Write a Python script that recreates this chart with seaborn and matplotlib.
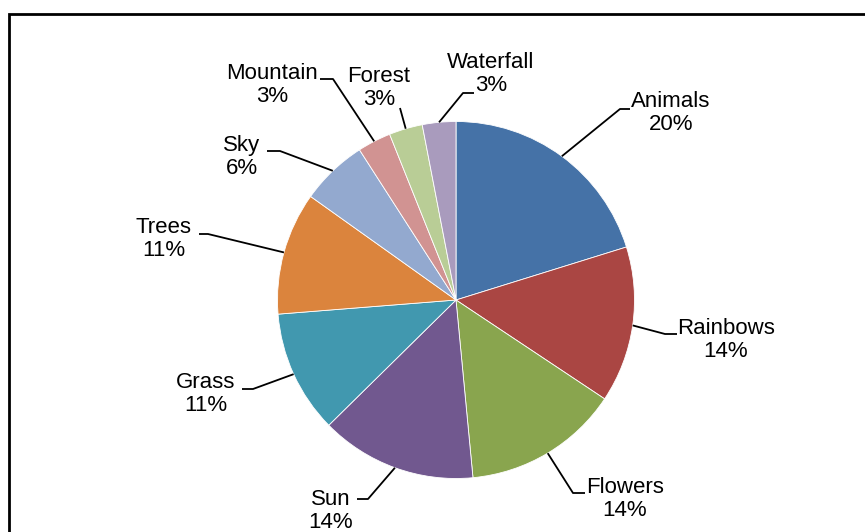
import matplotlib
matplotlib.use("Agg")
import matplotlib.pyplot as plt
import seaborn as sns
import numpy as np
from matplotlib.patches import Rectangle

# Share of votes per favourite picture theme (percent)
categories = ["Animals", "Rainbows", "Flowers", "Sun", "Grass",
              "Trees", "Sky", "Mountain", "Forest", "Waterfall"]
shares = [20, 14, 14, 14, 11, 11, 6, 3, 3, 3]
slice_colors = ["#4572A7", "#AA4643", "#89A54E", "#71588F", "#4198AF",
                "#DB843D", "#93A9CF", "#D19392", "#B9CD96", "#A99BBD"]

# Label layout in canvas pixels (x to the right, y downward):
# text block centre, then the leader-line points leading back to the slice.
label_layout = {
    "Animals":   {"text": (671, 113), "path": [(620, 109), (630, 109)]},
    "Rainbows":  {"text": (726, 340), "path": [(665, 334), (677, 334)]},
    "Flowers":   {"text": (625, 499), "path": [(573, 493), (585, 493)]},
    "Sun":       {"text": (331, 511), "path": [(368, 499), (357, 499)]},
    "Grass":     {"text": (206, 394), "path": [(253, 389), (242, 389)]},
    "Trees":     {"text": (164, 239), "path": [(208, 234), (199, 234)]},
    "Sky":       {"text": (242, 157), "path": [(280, 151), (267, 151)]},
    "Mountain":  {"text": (272, 85),  "path": [(333, 79), (320, 79)]},
    "Forest":    {"text": (379, 88),  "path": [(400, 108)]},
    "Waterfall": {"text": (491, 74),  "path": [(463, 93), (474, 93)]},
}

W, H = 865, 532
CENTER = (456, 300)
RADIUS = 178.5

sns.set_theme(style="white")
plt.rcParams["font.family"] = ["Liberation Sans", "DejaVu Sans"]


def flip(pt):
    return (pt[0], H - pt[1])


fig = plt.figure(figsize=(W / 100, H / 100), dpi=100)
fig.patch.set_facecolor("white")
ax = fig.add_axes([0, 0, 1, 1])

wedges, _ = ax.pie(
    shares,
    colors=slice_colors,
    startangle=90,
    counterclock=False,
    center=flip(CENTER),
    radius=RADIUS,
    wedgeprops=dict(edgecolor="white", linewidth=0.6),
)

cx, cy = flip(CENTER)
for name, share, wedge in zip(categories, shares, wedges):
    mid = np.deg2rad((wedge.theta1 + wedge.theta2) / 2)
    start = (cx + RADIUS * np.cos(mid), cy + RADIUS * np.sin(mid))
    layout = label_layout[name]
    pts = [start] + [flip(p) for p in layout["path"]]
    xs, ys = zip(*pts)
    ax.plot(xs, ys, color="black", linewidth=1.3, solid_capstyle="butt")
    tx, ty = flip(layout["text"])
    ax.text(tx, ty, f"{name}\n{share}%", ha="center", va="center",
            multialignment="center", fontsize=16, color="black",
            linespacing=1.17)

# Chart-area frame
ax.add_patch(Rectangle((9, -50), W + 50, (H - 14) + 50, fill=False,
                       edgecolor="black", linewidth=2))

ax.set_xlim(0, W)
ax.set_ylim(0, H)
ax.set_aspect("equal")
ax.axis("off")

fig.savefig("out.png", dpi=100, facecolor="white")
